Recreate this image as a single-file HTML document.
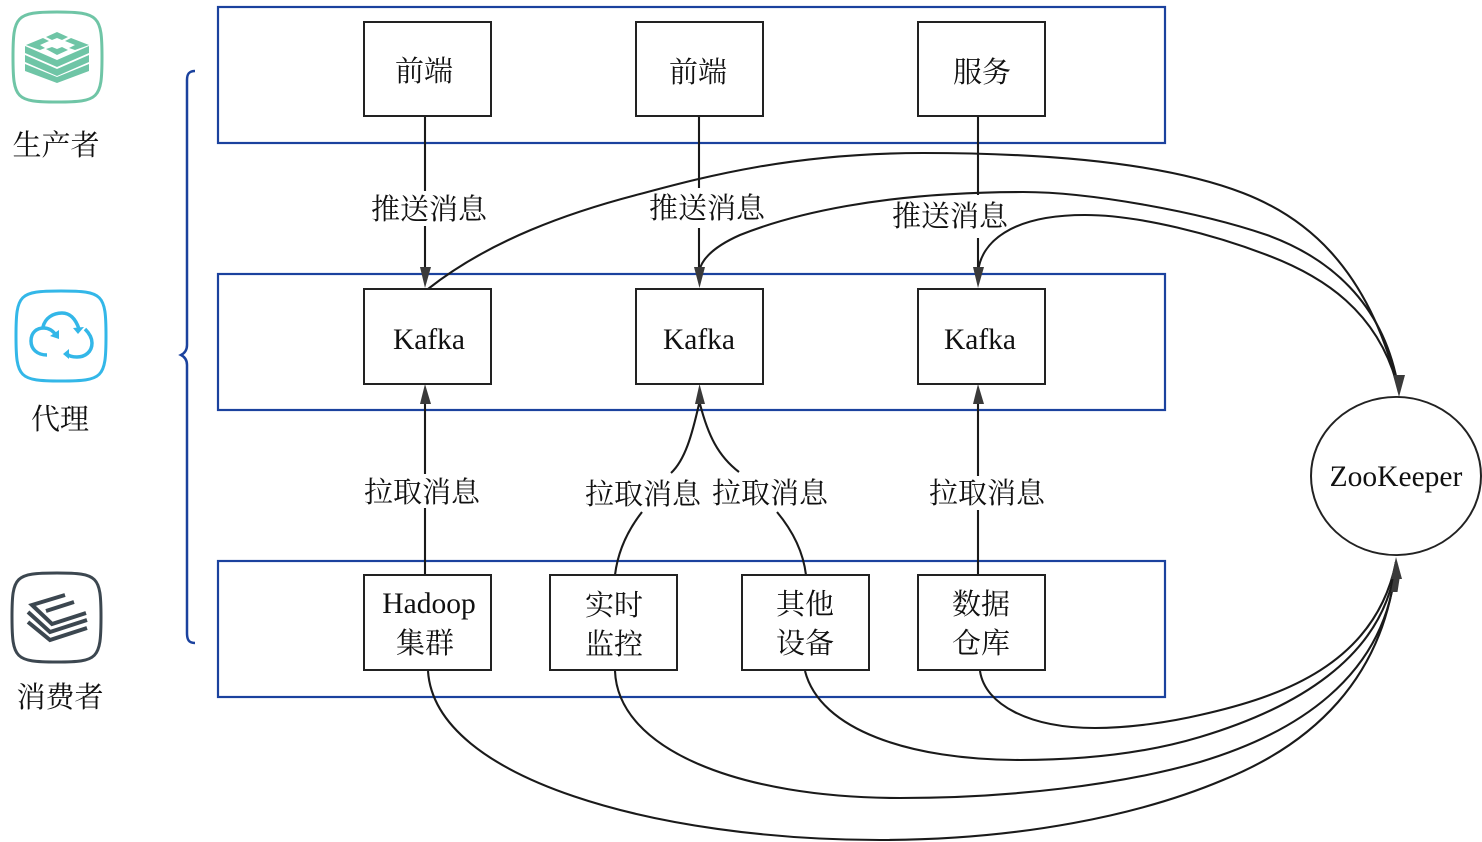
<!DOCTYPE html>
<html><head><meta charset="utf-8"><style>
html,body{margin:0;padding:0;background:#fff}
svg{display:block}
text{font-family:"Liberation Serif","Noto Serif CJK SC",serif;fill:#111;text-anchor:middle}
.g{fill:none;stroke:#1b429e;stroke-width:2.2}
.b{fill:#fff;stroke:#222;stroke-width:2}
.c{fill:none;stroke:#1a1a1a;stroke-width:2.1}
.a{fill:#3a3a3a;stroke:none}
.t{font-size:29px}
.k{font-size:29.5px}
</style></head><body>
<svg width="1482" height="842" viewBox="0 0 1482 842" xmlns="http://www.w3.org/2000/svg">
<!-- group frames -->
<rect class="g" x="218" y="7" width="947" height="136"/>
<rect class="g" x="218" y="274" width="947" height="136"/>
<rect class="g" x="218" y="561" width="947" height="136"/>
<!-- brace -->
<path class="g" style="stroke-width:2.5" d="M195 71C189 71 187 74 187 80L187 345C187 350 185 353 181 355C185 357 187 360 187 365L187 633C187 640 189 643 195 643"/>
<!-- straight edges, broken around their labels -->
<path class="c" d="M425 117V191M425 226V268M699 117V188M699 228V268M978 117V195M978 238V268M425 404V474M425 508V575M978 404V476M978 510V575"/>
<!-- curved up edges -->
<path class="c" d="M699 404C692 435 685 460 671 473M615 575C618 550 628 530 642 512M700 404C708 435 718 456 739 472M806 575C803 550 792 530 777 512"/>
<!-- to ZooKeeper top -->
<path class="c" d="M428 289C490 240 570 212 640 194C700 178 790 153 923 153C1050 153 1165 163 1243 193C1300 215 1368 262 1399 392"/>
<path class="c" d="M699 272C702 255 722 243 740 235C790 215 880 192 1023 192C1090 192 1200 212 1267 235C1325 256 1385 300 1399 392"/>
<path class="c" d="M978 272C981 243 1010 215 1085 215C1140 215 1215 235 1267 255C1320 275 1380 310 1399 392"/>
<!-- to ZooKeeper bottom -->
<path class="c" d="M428 671C435 780 660 840 880 840C1020 840 1140 815 1223 780C1310 745 1385 680 1396 562"/>
<path class="c" d="M615 671C618 750 740 798 900 798C1010 798 1120 785 1200 762C1290 735 1388 680 1396 562"/>
<path class="c" d="M805 671C820 730 910 760 1020 760C1090 760 1150 752 1200 737C1290 710 1385 660 1396 562"/>
<path class="c" d="M980 671C985 705 1030 728 1095 728C1130 728 1170 722 1200 715C1280 697 1375 665 1396 562"/>
<!-- arrowheads -->
<path class="a" d="M425 288L420 267H431ZM699.500 288L694 267H705ZM978 288L973 267H984ZM425 384L420 404H431ZM699.500 384L695 404H705ZM978 384L973 404H984ZM1399 397L1393 375H1405Z"/>
<path class="a" d="M1396 557L1402 579H1399.500L1397.500 592H1391L1393.500 579H1391Z"/>
<!-- nodes -->
<rect class="b" x="364" y="22" width="127" height="94"/>
<rect class="b" x="636" y="22" width="127" height="94"/>
<rect class="b" x="918" y="22" width="127" height="94"/>
<rect class="b" x="364" y="289" width="127" height="95"/>
<rect class="b" x="636" y="289" width="127" height="95"/>
<rect class="b" x="918" y="289" width="127" height="95"/>
<rect class="b" x="364" y="575" width="127" height="95"/>
<rect class="b" x="550" y="575" width="127" height="95"/>
<rect class="b" x="742" y="575" width="127" height="95"/>
<rect class="b" x="918" y="575" width="127" height="95"/>
<circle class="b" cx="1396" cy="476" r="85" style="transform-origin:1396px 476px;transform:scale(1,.93)"/>
<!-- labels -->
<g class="t">
<text x="424" y="81">前端</text>
<text x="698" y="82">前端</text>
<text x="982" y="82">服务</text>
<text x="429" y="219">推送消息</text>
<text x="707" y="218">推送消息</text>
<text x="950" y="226">推送消息</text>
<text x="422" y="502">拉取消息</text>
<text x="643" y="504">拉取消息</text>
<text x="770" y="503">拉取消息</text>
<text x="987" y="503">拉取消息</text>
<text x="425" y="653">集群</text>
<text x="614" y="615">实时</text>
<text x="614" y="654">监控</text>
<text x="805" y="614">其他</text>
<text x="805" y="653">设备</text>
<text x="981" y="614">数据</text>
<text x="981" y="653">仓库</text>
<text x="56" y="155">生产者</text>
<text x="60" y="429">代理</text>
<text x="60" y="707">消费者</text>
</g>
<g class="k">
<text x="429" y="349">Kafka</text>
<text x="699" y="349">Kafka</text>
<text x="980" y="349">Kafka</text>
<text x="429" y="613">Hadoop</text>
<text x="1396" y="486">ZooKeeper</text>
</g>
<!-- producer icon -->
<path d="M13 57C13 16 16 12 57 12C99 12 102 16 102 57C102 99 99 102 57 102C16 102 13 99 13 57Z" fill="none" stroke="#6fc5a6" stroke-width="3"/>
<g fill="#6fc5a6">
<path d="M25 46L57 60L89 46V53L57 67L25 53Z"/>
<path d="M25 55L57 69L89 55V62L57 76L25 62Z"/>
<path d="M25 64L57 77L89 64V71L57 83L25 71Z"/>
<path d="M57 32L68 37L62 40L57 38L52 40L46 37ZM43 38L49 41L40 45L45 48L40 50L26 45ZM71 38L89 45L75 50L69 48L75 45L65 41ZM46 49L52 47L57 49L62 47L68 50L57 55Z"/>
</g>
<!-- broker icon -->
<path d="M16 336C16 294 19 291 61 291C103 291 106 294 106 336C106 378 103 381 61 381C19 381 16 378 16 336Z" fill="none" stroke="#33b7e8" stroke-width="3"/>
<g fill="none" stroke="#33b7e8" stroke-width="3.500">
<path d="M47 355C37 355 31 349 31 341C31 332 37 328 44 328C49 328 53 331 56 335"/>
<path d="M43 327C45 318 53 313 62 313C71 313 76 320 79 329"/>
<path d="M85 329C90 334 92 338 92 343C92 352 85 357 77 357C72 357 69 356 67 354"/>
</g>
<path d="M59 339L50 336L59 330ZM78 334L73 328L84 327ZM63 354L69 349L69 359Z" fill="#33b7e8"/>
<!-- consumer icon -->
<path d="M12 617C12 576 15 573 57 573C98 573 101 576 101 617C101 659 98 662 57 662C15 662 12 659 12 617Z" fill="none" stroke="#3c4750" stroke-width="3"/>
<g fill="none" stroke="#3c4750" stroke-width="4">
<path d="M65 595L32 605L52 624L86 613M74 602L46 611"/>
<path d="M28 612L50 632L87 620"/>
<path d="M28 622L50 640L87 628"/>
</g>
</svg>
</body></html>
